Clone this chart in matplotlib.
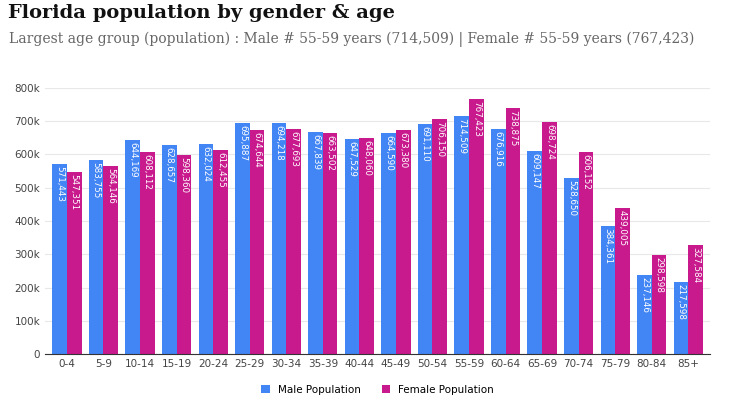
import matplotlib.pyplot as plt
import numpy as np

ages = ["0-4", "5-9", "10-14", "15-19", "20-24", "25-29", "30-34", "35-39", "40-44", "45-49",
        "50-54", "55-59", "60-64", "65-69", "70-74", "75-79", "80-84", "85+"]
male = [571443, 583755, 644169, 628657, 632024, 695887, 694218, 667839, 647529, 664590,
        691110, 714509, 676916, 609147, 528650, 384361, 237146, 217598]
female = [547351, 564146, 608112, 598360, 612455, 674644, 677693, 663502, 648060, 673380,
          706150, 767423, 738875, 698724, 606152, 439005, 298598, 327584]

blue = "#4285f4"
pink = "#c8198d"

fig = plt.figure(figsize=(7.5, 4.07), dpi=100)
ax = fig.add_axes([0.06, 0.13, 0.887, 0.654])

x = np.arange(len(ages))
w = 0.4
b1 = ax.bar(x - w / 2, male, w, color=blue, label="Male Population")
b2 = ax.bar(x + w / 2, female, w, color=pink, label="Female Population")

for bars, vals in ((b1, male), (b2, female)):
    for r, v in zip(bars, vals):
        ax.text(r.get_x() + r.get_width() / 2, v - 6000, f"{v:,}", rotation=-90,
                ha="center", va="top", color="white", fontsize=6.3)

ax.set_ylim(0, 800000)
ax.set_yticks(np.arange(0, 800001, 100000))
ax.set_yticklabels(["0"] + [f"{i}00k" for i in range(1, 9)])
ax.set_xticks(x)
ax.set_xticklabels(ages)
ax.set_xlim(-0.6, len(ages) - 0.4)
ax.tick_params(labelsize=7.5, colors="#444444", length=0)
ax.grid(axis="y", color="#e8e8e8", linewidth=0.8)
ax.set_axisbelow(True)
for s in ["top", "right", "left"]:
    ax.spines[s].set_visible(False)
ax.spines["bottom"].set_color("#333333")

ax.legend(loc="upper center", bbox_to_anchor=(0.5, -0.08), ncol=2, frameon=False,
          fontsize=7.5, handlelength=0.8, handleheight=0.8, columnspacing=2)

fig.text(0.01, 0.955, "Florida population by gender & age", fontsize=14, fontweight="bold",
         family="DejaVu Serif", color="#111111")
fig.text(0.012, 0.895, "Largest age group (population) : Male # 55-59 years (714,509) | Female # 55-59 years (767,423)",
         fontsize=10, family="DejaVu Serif", color="#666666")

fig.savefig("out.png", dpi=100)
